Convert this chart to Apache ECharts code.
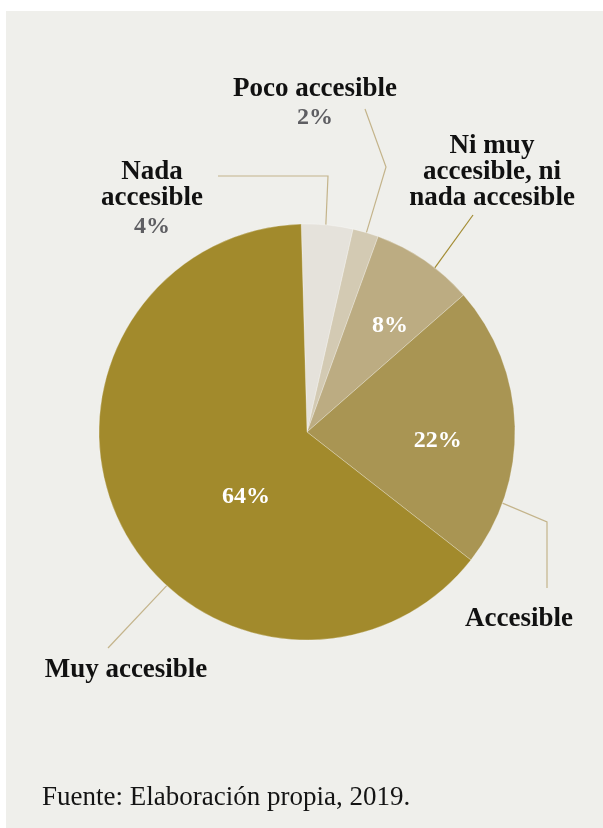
<!DOCTYPE html>
<html>
<head>
<meta charset="utf-8">
<script src="https://cdn.jsdelivr.net/npm/echarts@6/dist/echarts.min.js"></script>
<style>
  html, body { margin: 0; background: #fff; }
  #grafico { width: 603px; height: 828px; }
</style>
</head>
<body>
<div id="grafico"></div>
<script>
const categorias = ['Nada accesible', 'Poco accesible', 'Ni muy accesible, ni nada accesible', 'Accesible', 'Muy accesible'];
const valores = [4, 2, 8, 22, 64];
const colores = ['#e5e2db', '#d3cab3', '#bcac82', '#a99553', '#a28a2c'];
const etiquetas = [['Nada', 'accesible'], ['Poco accesible'], ['Ni muy', 'accesible, ni', 'nada accesible'], ['Accesible'], ['Muy accesible']];
const fuente = 'Fuente: Elaboración propia, 2019.';

const centro = [307, 432];
const radio = 208;
const serif = '"Liberation Serif", "DejaVu Serif", serif';

// outside labels: anchor, angle where the line leaves the pie, bends relative to the anchor
const externas = [
    { x: 152, y: 201, ang: 5.2, bends: [[176, -25], [66, -25]], pct: true },
    { x: 315, y: 105, ang: 16.6, bends: [[71, 62], [50, 4]], pct: true },
    { x: 492, y: 172, ang: 37.9, bends: [[-19, 43]], pct: false },
    { x: 519, y: 619, ang: 110, bends: [[28, -97], [28, -31]], pct: false },
    { x: 126, y: 670, ang: 222.4, bends: [[-18, -22]], pct: false }
];
// inside percentage labels (angle, distance from centre)
const internas = [null, null, { ang: 37.9, d: 135 }, { ang: 93.9, d: 131 }, { ang: 223.2, d: 89 }];

function polar(ang, d) {
    const a = ang * Math.PI / 180;
    return [centro[0] + d * Math.sin(a), centro[1] - d * Math.cos(a)];
}

const chart = echarts.init(document.getElementById('grafico'));

const option = {
    animation: false,
    graphic: [{
        type: 'rect', left: 6, top: 11, z: -10, silent: true,
        shape: { width: 597, height: 817 },
        style: { fill: '#efefeb' }
    }],
    title: {
        text: fuente,
        left: 37, top: 779,
        textStyle: { fontFamily: serif, fontWeight: 'normal', fontSize: 27, color: '#141414' }
    },
    series: [
        {
            type: 'pie',
            center: centro,
            radius: radio,
            startAngle: 91.6,
            silent: true,
            data: categorias.map((c, i) => ({
                name: c, value: valores[i],
                itemStyle: { color: colores[i] },
                labelLine: i === 2 ? { lineStyle: { color: '#a38c33' } } : undefined
            })),
            itemStyle: { borderColor: 'rgba(255,255,255,0.45)', borderWidth: 0.6 },
            label: {
                show: true,
                position: 'outside',
                overflow: 'none',
                formatter: p => {
                    const lines = etiquetas[p.dataIndex].map(t => '{n|' + t + '}');
                    if (externas[p.dataIndex].pct) lines.push('{p|' + p.value + '%}');
                    return lines.join('\n');
                },
                rich: {
                    n: { fontFamily: serif, fontWeight: 'bold', fontSize: 27, color: '#111', lineHeight: 26 },
                    p: { fontFamily: serif, fontWeight: 'bold', fontSize: 24, color: '#5e5e62', lineHeight: 32 }
                }
            },
            labelLine: { show: true, lineStyle: { color: '#c4b48b', width: 1.2 } },
            labelLayout: p => {
                const e = externas[p.dataIndex];
                const pts = [polar(e.ang, radio)].concat(e.bends.map(b => [e.x + b[0], e.y + b[1]]));
                return { x: e.x, y: e.y, align: 'center', verticalAlign: 'middle', labelLinePoints: pts };
            }
        },
        {
            type: 'pie',
            center: centro,
            radius: radio,
            startAngle: 91.6,
            silent: true,
            z: 3,
            data: categorias.map((c, i) => ({
                name: c, value: valores[i],
                label: { show: internas[i] !== null }
            })),
            itemStyle: { color: 'rgba(0,0,0,0)', borderWidth: 0 },
            label: {
                show: true,
                position: 'inside',
                formatter: p => p.value + '%',
                fontFamily: serif, fontWeight: 'bold', fontSize: 24, color: '#fff'
            },
            labelLine: { show: false },
            labelLayout: p => {
                const q = internas[p.dataIndex];
                if (!q) return {};
                const xy = polar(q.ang, q.d);
                return { x: xy[0], y: xy[1], align: 'center', verticalAlign: 'middle' };
            }
        }
    ]
};

chart.setOption(option);
window.addEventListener('resize', () => chart.resize());
</script>
</body>
</html>
